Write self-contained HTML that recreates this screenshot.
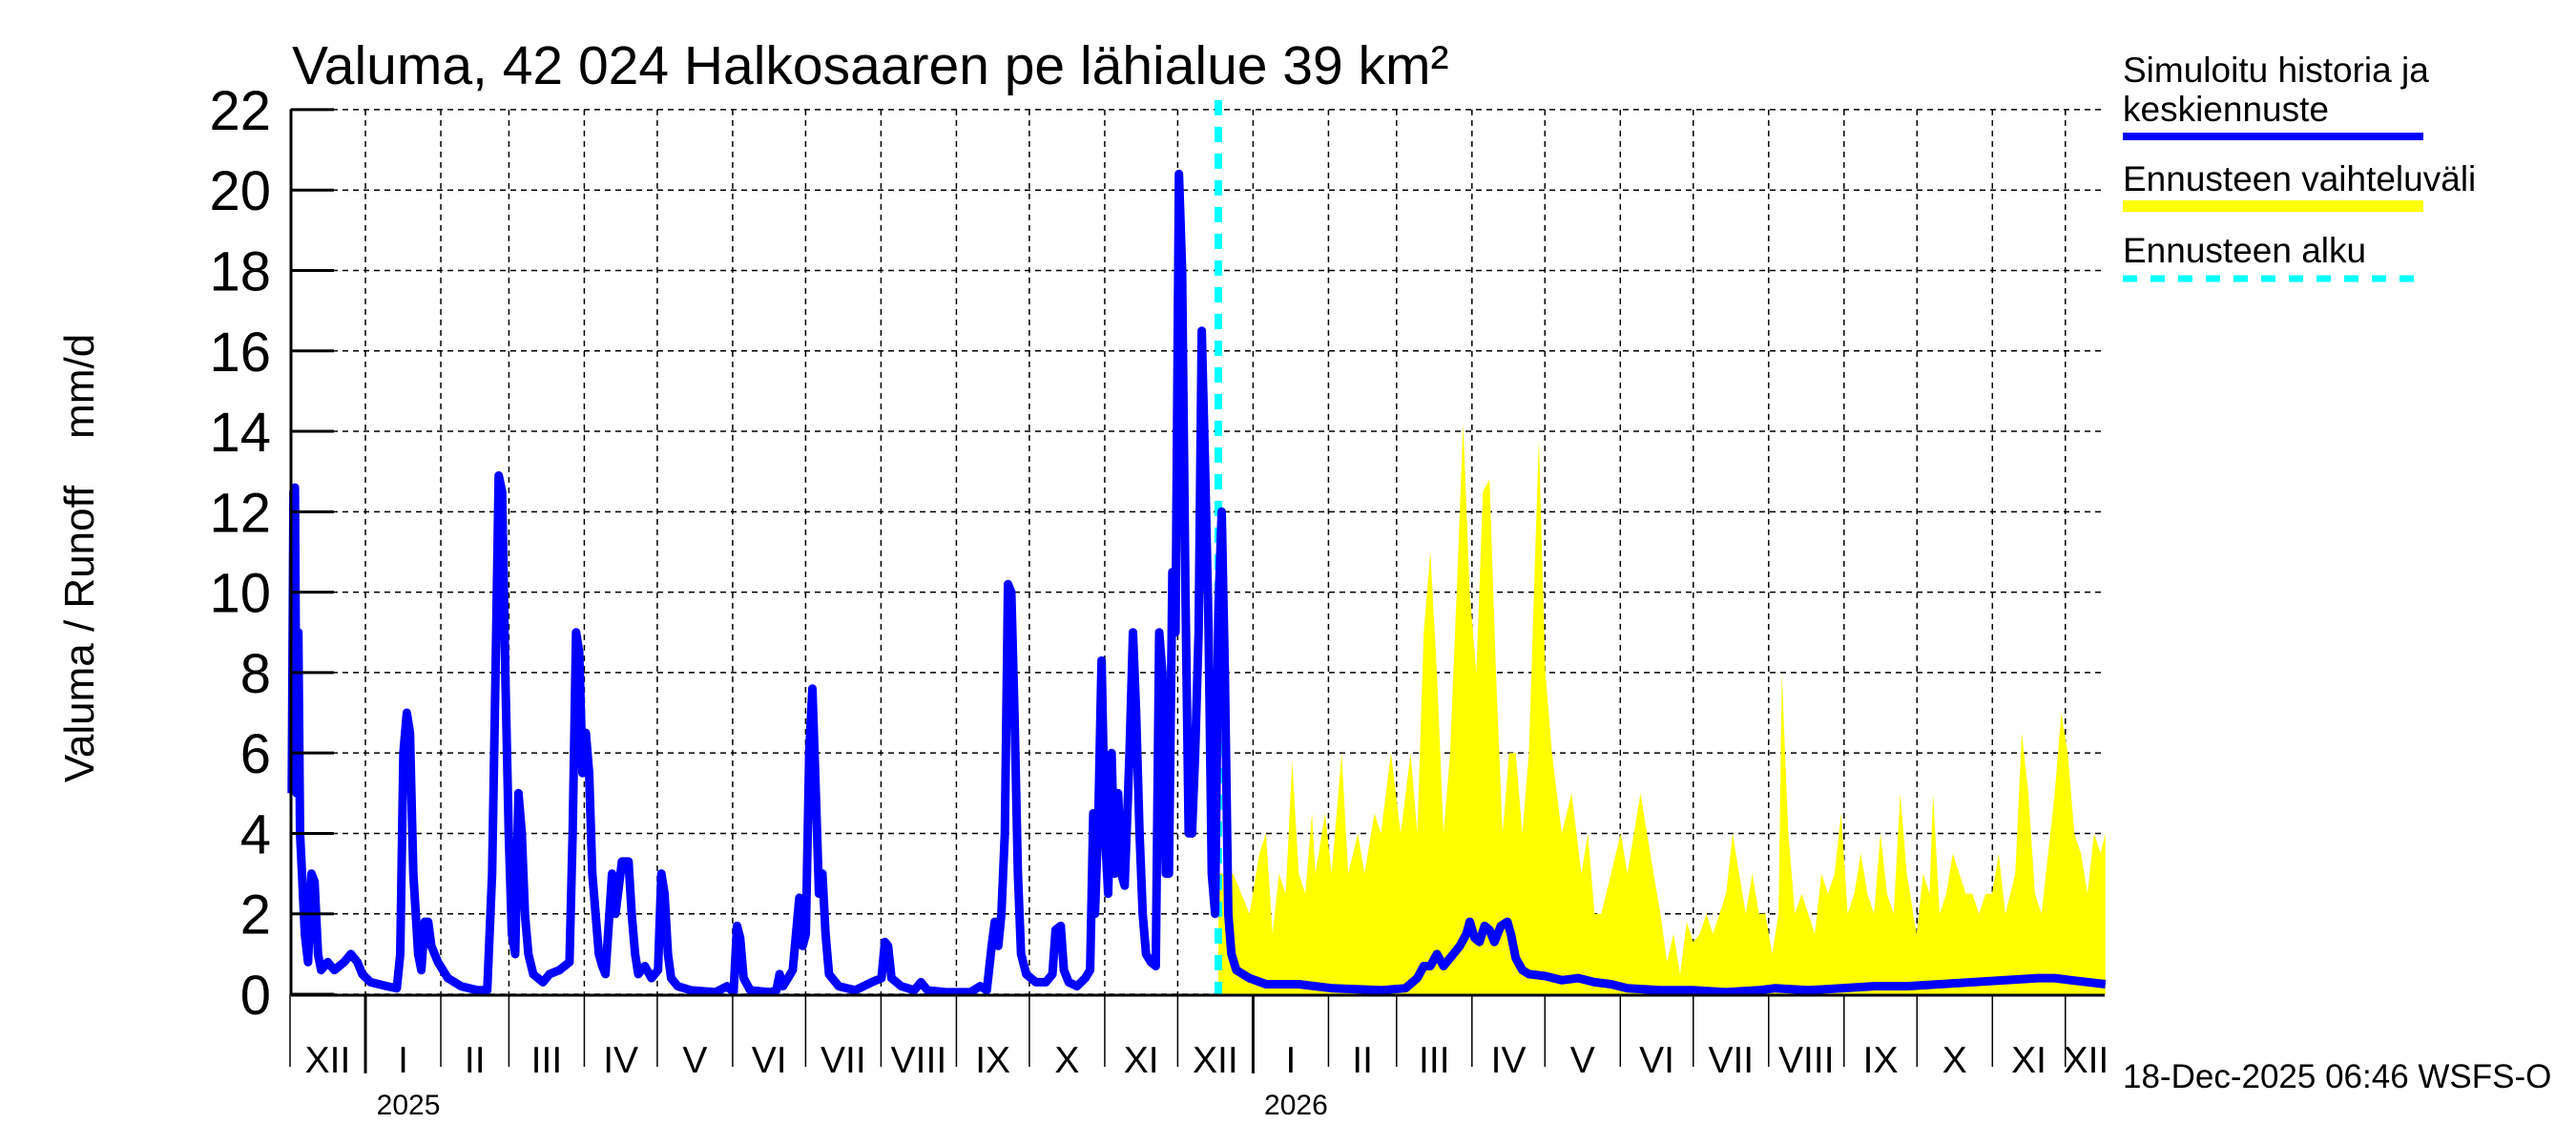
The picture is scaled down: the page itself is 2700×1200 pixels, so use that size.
<!DOCTYPE html>
<html><head><meta charset="utf-8">
<style>
html,body{margin:0;padding:0;background:#fff;}
svg{display:block;font-family:"Liberation Sans",sans-serif;}
</style></head>
<body>
<svg id="chart" width="2700" height="1200" viewBox="0 0 2700 1200" xmlns="http://www.w3.org/2000/svg">
<text x="306" y="88" font-size="57" fill="#000">Valuma, 42 024 Halkosaaren pe lähialue 39 km²</text>
<text transform="translate(98,585) rotate(-90)" text-anchor="middle" font-size="44" fill="#000">Valuma / Runoff &#160;&#160;&#160;mm/d</text>
<g id="grid"></g>
<g id="band"></g>
<g id="lines"></g>
<g id="axes"></g>
<g id="legend">
  <text x="2225" y="86" font-size="37">Simuloitu historia ja</text>
  <text x="2225" y="127" font-size="37">keskiennuste</text>
  <line x1="2225" y1="143" x2="2540" y2="143" stroke="#0000ff" stroke-width="8"/>
  <text x="2225" y="200" font-size="37">Ennusteen vaihteluväli</text>
  <line x1="2225" y1="216" x2="2540" y2="216" stroke="#ffff00" stroke-width="12"/>
  <text x="2225" y="275" font-size="37">Ennusteen alku</text>
  <line x1="2225" y1="292" x2="2540" y2="292" stroke="#00ffff" stroke-width="7" stroke-dasharray="15,14"/>
</g>
<text x="2225" y="1140" font-size="35">18-Dec-2025 06:46 WSFS-O</text>
</svg>
<script>
// Days counted from 1 Dec 2024
const yTicks = [0,2,4,6,8,10,12,14,16,18,20,22];
const monthStarts = [0,31,62,90,121,151,182,212,243,274,304,335,365,396,427,455,486,516,547,577,608,639,669,700,730,747];
const monthLabels = ["XII","I","II","III","IV","V","VI","VII","VIII","IX","X","XI","XII","I","II","III","IV","V","VI","VII","VIII","IX","X","XI","XII"];
const yearLabels = ["2025","2026"];
const yearStartDays = [31,396];
const forecastStartDay = 381.7;
const histDays = [0.7,1.4,2.0,2.7,3.4,4.1,6.1,7.4,8.8,10.1,11.5,12.8,15.5,18.2,22.3,25.0,27.7,29.7,33.1,39.9,43.9,45.3,46.6,48.0,49.3,50.7,52.7,54.0,55.4,56.8,58.1,60.8,64.9,70.3,77.0,81.1,83.1,84.5,85.8,87.2,88.5,89.9,91.2,92.6,93.9,95.3,96.6,98.0,100.0,104.0,106.7,110.8,114.9,116.2,117.6,118.9,120.3,121.6,123.0,124.3,127.0,128.4,129.7,132.4,133.8,136.5,139.2,140.5,141.9,143.2,145.9,148.6,151.3,152.7,154.0,155.4,156.7,159.4,164.8,175.0,179.7,182.4,183.8,185.1,186.5,189.2,197.3,200.0,201.3,202.7,206.7,209.4,210.8,212.1,213.5,214.8,216.2,217.5,218.9,220.2,221.6,225.6,232.4,239.2,243.2,244.6,245.9,247.3,251.3,256.7,259.4,262.1,269.6,279.7,283.8,286.5,288.5,289.8,291.2,292.5,293.9,295.2,296.6,297.9,299.3,300.6,302.7,306.7,310.8,313.5,314.8,316.9,318.2,320.2,323.6,327.0,329.0,330.3,331.0,332.4,333.7,335.1,336.4,337.8,339.1,340.5,341.8,343.2,345.2,346.6,347.9,349.3,350.6,352.0,354.0,356.0,357.4,358.7,360.1,361.4,362.8,364.1,365.5,366.8,368.2,369.5,370.9,372.2,373.6,374.9,376.3,377.7,379.0,380.4,381.7];
const histValues = [5,12.5,12.6,5,9,4,1.5,0.8,3,2.8,1,0.6,0.8,0.6,0.8,1.0,0.8,0.5,0.3,0.2,0.15,1,6,7,6.5,3,1,0.6,1.8,1.8,1.2,0.8,0.4,0.2,0.1,0.1,3,8,12.9,12.5,8,4,1.5,1,5,4,2,1,0.5,0.3,0.5,0.6,0.8,4,9,8.5,5.5,6.5,5.5,3,1,0.7,0.5,3,2,3.3,3.3,2,1,0.5,0.7,0.4,0.6,3,2.5,1,0.4,0.2,0.1,0.05,0.2,0.05,1.7,1.4,0.4,0.1,0.05,0.1,0.5,0.2,0.6,2.4,1.2,1.5,6,7.6,5,2.5,3,1.5,0.5,0.2,0.1,0.3,0.4,1.3,1.2,0.4,0.2,0.1,0.3,0.1,0.05,0.05,0.2,0.1,1.2,1.8,1.2,2,4,10.2,10,7,3,1,0.5,0.3,0.3,0.5,1.6,1.7,0.6,0.3,0.2,0.4,0.6,4.5,2,4.5,8.3,4,2.5,6,3,5,3,2.7,6,9,7,4,2,1,0.8,0.7,9,8,3,3,10.5,9,20.4,18,10,4,4,6,9,16.5,13,9,3,2,9.5];
const meanDays = [381.7,383.1,384.4,385.8,387.1,389.1,394.5,401.3,414.8,428.3,448.6,458.7,463.5,466.2,468.9,471.6,474.3,478.3,481.0,483.7,485.1,487.1,489.1,491.2,493.2,495.2,497.9,500.6,502.0,504.0,506.7,509.4,516.2,522.9,529.7,536.4,543.2,549.9,563.5,577.0,590.5,604.0,610.7,624.3,637.8,651.3,664.8,678.3,691.8,705.3,718.8,725.6,732.4,746.5];
const meanValues = [9.5,12,8,2,1,0.6,0.4,0.25,0.25,0.15,0.1,0.15,0.4,0.7,0.7,1,0.7,1.0,1.2,1.5,1.8,1.4,1.3,1.7,1.6,1.3,1.7,1.8,1.5,0.9,0.6,0.5,0.45,0.35,0.4,0.3,0.25,0.15,0.1,0.1,0.05,0.1,0.15,0.1,0.15,0.2,0.2,0.25,0.3,0.35,0.4,0.4,0.35,0.25];
const bandDays = [381.7,387.8,394.5,398.6,401.3,404.0,406.7,409.4,412.1,414.8,417.5,420.2,421.6,425.6,428.3,432.4,435.1,439.1,441.8,445.9,448.6,452.7,456.7,460.8,463.5,466.2,468.9,471.6,474.3,477.0,479.7,482.4,485.1,487.8,490.5,493.2,495.9,498.6,501.3,504.0,506.7,509.4,513.5,516.2,518.9,522.9,527.0,531.0,533.7,536.4,539.1,543.2,547.2,549.9,552.6,555.3,558.0,560.7,563.5,566.2,568.9,571.6,574.3,577.0,579.7,582.4,585.1,587.8,590.5,593.2,595.9,598.6,601.3,604.0,606.7,609.4,612.1,613.4,616.1,618.8,621.6,624.3,627.0,629.7,632.4,635.1,637.8,640.5,643.2,645.9,648.6,651.3,654.0,656.7,659.4,662.1,664.8,668.8,671.5,674.2,675.6,678.3,681.0,683.7,686.4,689.1,691.8,694.5,697.2,699.9,702.6,705.3,709.4,712.1,714.8,717.5,720.2,722.9,725.6,728.3,731.0,733.7,736.4,739.1,741.8,744.5,746.5];
const bandUpper = [3,3,2,3.5,4,1.5,3,2.5,5.8,3,2.5,4.5,3,4.5,3,6,3,4,3,4.5,4,6,4,6,4,9,11,8,4,6,10,14.2,10,8,12.5,12.8,8,4,6,6,4,6,13.8,8,6,4,5,3,4,2,2,3,4,3,4,5,4,3,2,0.8,1.5,0.5,1.8,1.3,1.5,2,1.5,2,2.5,4,3,2,3,2,2,1,2,8,4,2,2.5,2,1.5,3,2.5,3,4.5,2,2.5,3.5,2.5,2,4,2.5,2,5,3,1.5,3,2.5,5,2,2.5,3.5,3,2.5,2.5,2,2.5,2.5,3.5,2,3,6.5,5,2.5,2,3.5,5,7,6,4,3.5,2.5,4,3.5,4];

const NS='http://www.w3.org/2000/svg';
const X0=304, PXD=2.549, Y0=1042, PXV=42.14, XR=2206;
function xs(d){return X0+d*PXD;}
function ys(v){return Y0-v*PXV;}
function mk(tag,attrs,parent){const e=document.createElementNS(NS,tag);for(const k in attrs)e.setAttribute(k,attrs[k]);parent.appendChild(e);return e;}
const grid=document.getElementById('grid'), axes=document.getElementById('axes'), band=document.getElementById('band'), lines=document.getElementById('lines');

yTicks.forEach(v=>{
  const g=mk('line',{x1:X0,x2:XR,y1:ys(v),y2:ys(v),stroke:'#000','stroke-width':1.5,'stroke-dasharray':'6,5'},grid);
  
  
  const t=mk('line',{x1:305,x2:350,y1:ys(v),y2:ys(v),stroke:'#000','stroke-width':3},axes);
  
  
  const l=mk('text',{x:284,y:ys(v)+21,'text-anchor':'end','font-size':58},axes);
  l.textContent=v;
  
  
});
monthStarts.forEach((d,i)=>{
  if(i>0&&i<monthStarts.length-1){
    const g=mk('line',{x1:xs(d),x2:xs(d),y1:ys(22),y2:Y0,stroke:'#000','stroke-width':1.5,'stroke-dasharray':'6,5'},grid);
    
    
  }
  if(i<monthStarts.length-1){
    const isYear=yearStartDays.includes(d);
    const t=mk('line',{x1:xs(d),x2:xs(d),y1:Y0,y2:isYear?1125:1118,stroke:'#000','stroke-width':isYear?3:1.5},axes);
    
    
    const l=mk('text',{x:(xs(d)+xs(monthStarts[i+1]))/2,y:1124,'text-anchor':'middle','font-size':39},axes);
    l.textContent=monthLabels[i];
    
    
  }
});
yearLabels.forEach((y,i)=>{
  const l=mk('text',{x:xs(yearStartDays[i])+45,y:1168,'text-anchor':'middle','font-size':30},axes);
  l.textContent=y;
  
  
});
let bp='M'+xs(bandDays[0])+','+Y0;
bandDays.forEach((d,i)=>{bp+=' L'+xs(d).toFixed(1)+','+ys(bandUpper[i]).toFixed(1);});
bp+=' L'+xs(bandDays[bandDays.length-1])+','+Y0+' Z';
const bEl=mk('path',{d:bp,fill:'#ffff00',stroke:'none'},band);


const fs=mk('line',{x1:xs(forecastStartDay),x2:xs(forecastStartDay),y1:ys(22)-10,y2:Y0,stroke:'#00ffff','stroke-width':8,'stroke-dasharray':'16,12'},lines);


function poly(days,vals,name){
  const pts=days.map((d,i)=>xs(d).toFixed(1)+','+ys(vals[i]).toFixed(1)).join(' ');
  const p=mk('polyline',{points:pts,fill:'none',stroke:'#0000ff','stroke-width':9,'stroke-linejoin':'round'},lines);
  
  
}
poly(histDays,histValues,'simulated-history-line');
poly(meanDays,meanValues,'forecast-mean-line');
const ax1=mk('line',{x1:305,x2:305,y1:ys(22),y2:1042,stroke:'#000','stroke-width':3},axes);


const ax2=mk('line',{x1:305,x2:XR,y1:1043,y2:1043,stroke:'#000','stroke-width':3},axes);


</script>
</body></html>
